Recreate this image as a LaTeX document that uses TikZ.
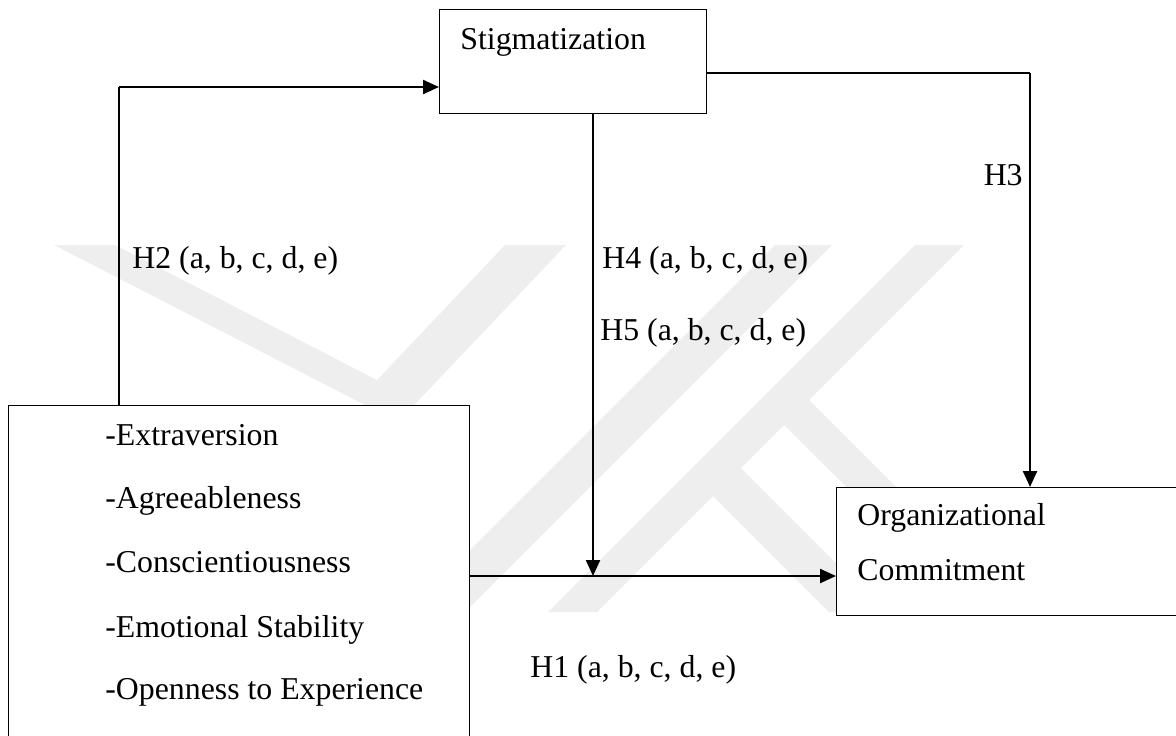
\documentclass[tikz,border=0pt]{standalone}
\usepackage{fontspec}
\setmainfont{Liberation Serif}
\usetikzlibrary{arrows.meta}
\definecolor{wmark}{gray}{0.935}
\begin{document}
\begin{tikzpicture}[x=0.5pt,y=-0.5pt,
  box/.style={draw, line width=0.6pt, fill=white, inner sep=0pt, anchor=north west},
  lbl/.style={inner sep=0pt, anchor=base west, font=\fontsize{15.9pt}{19pt}\selectfont},
  thinln/.style={line width=0.65pt},
  thickln/.style={line width=1.15pt},
  arr/.style={thickln, -{Triangle[length=8pt,width=7pt]}}]

\useasboundingbox (0,0) rectangle (1176,735);
\clip (0,0) rectangle (1176,735);

% faint background emblem
\fill[wmark] (54,245) -- (115,245) -- (377,380) -- (505,245) -- (566,245) -- (398,422) -- cycle;
\fill[wmark] (775,245) -- (832,245) -- (465,612) -- (408,612) -- cycle;
\fill[wmark] (915,245) -- (964,245) -- (597,612) -- (548,612) -- cycle;
\fill[wmark] (712,495) -- (740,467) -- (885,612) -- (829,612) -- cycle;
\fill[wmark] (783,424) -- (808,399) -- (1021,612) -- (972,612) -- cycle;

% boxes
\node[box, minimum width=133.5pt, minimum height=52pt] (stig) at (439,9) {};
\node[box, minimum width=230.5pt, minimum height=170pt] (traits) at (8,405) {};
\node[box, minimum width=172pt, minimum height=64pt] (org) at (836,487) {};

% box texts
\node[lbl] (stigt) at (460,49) {Stigmatization};
\node[lbl] (t1) at (105,445) {-Extraversion};
\node[lbl] (t2) at (105,508) {-Agreeableness};
\node[lbl] (t3) at (105,572) {-Conscientiousness};
\node[lbl] (t4) at (105,637) {-Emotional Stability};
\node[lbl] (t5) at (105,699) {-Openness to Experience};
\node[lbl] (o1) at (857,525) {Organizational};
\node[lbl] (o2) at (857,580) {Commitment};

% routing points
\coordinate (h2c) at (119,87);
\coordinate (join) at (593,576);
\coordinate (h3c) at (1030,73);

% connectors
\draw[thinln] (h2c |- traits.north) -- (h2c);
\draw[arr] (h2c) -- (h2c -| stig.west);
\draw[arr] (join |- stig.south) -- (join);
\draw[arr] (join -| traits.east) -- (join -| org.west);
\draw[thinln] (h3c -| stig.east) -- (h3c);
\draw[arr] (h3c) -- (h3c |- org.north);

% hypothesis labels
\node[lbl] (h2) at (132,268) {H2 (a, b, c, d, e)};
\node[lbl] (h4) at (602,268) {H4 (a, b, c, d, e)};
\node[lbl] (h5) at (600,340) {H5 (a, b, c, d, e)};
\node[lbl, anchor=base east] (h3) at (1023,185) {H3};
\node[lbl] (h1) at (530,677) {H1 (a, b, c, d, e)};
\end{tikzpicture}
\end{document}
